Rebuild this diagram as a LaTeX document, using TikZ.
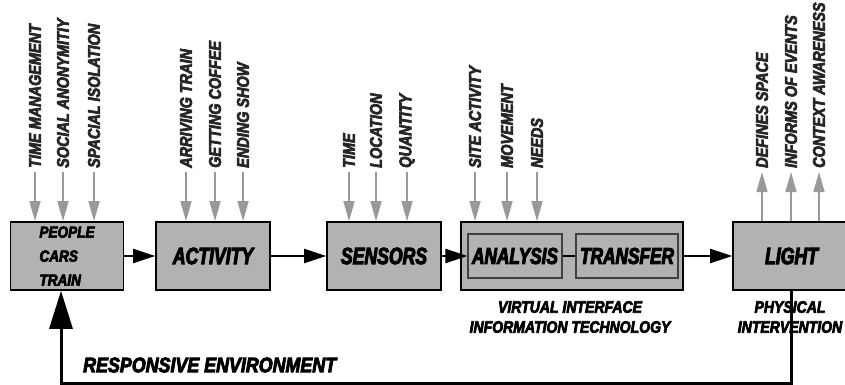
\documentclass[tikz,border=0pt]{standalone}
\usepackage{fontspec}
\newfontfamily\diagfont{Liberation Sans Bold Italic}[FakeStretch=0.85,FakeBold=4]
\newfontfamily\boxfont{Liberation Sans Bold Italic}[FakeStretch=0.75,FakeBold=4]
\usetikzlibrary{arrows.meta}
\begin{document}
\begin{tikzpicture}[x=1pt,y=-1pt]
\tikzset{box/.style      = {draw,
                            line width     = 1.6pt,
                            fill           = boxgray,
                            inner sep      = 0pt,
                            minimum height = 68pt,
                            font           = \boxfont\fontsize{23.5}{27}\selectfont},
         subbox/.style   = {box,
                            draw           = black!75,
                            line width     = 1.2pt,
                            minimum height = 44pt,
                            font           = \boxfont\fontsize{23}{27}\selectfont},
         toplabel/.style = {rotate=90, anchor=west, inner sep=0pt,
                            text           = black!85,
                            font           = \diagfont\fontsize{17}{20}\selectfont},
         note/.style     = {inner sep=0pt, align=center,
                            font           = \diagfont\fontsize{16.5}{20}\selectfont},
         inarrow/.style  = {draw=arrowgray, line width=1.4pt,
                            -{Triangle[length=20pt,width=11pt]}},
         flow/.style     = {line width=2.4pt, -{Triangle[length=22pt,width=14pt]}},
         feedback/.style = {line width=3pt, -{Triangle[length=38pt,width=23pt]}}}
\definecolor{boxgray}{rgb}{0.70,0.70,0.70}
\definecolor{arrowgray}{rgb}{0.60,0.60,0.60}
\useasboundingbox (0,0) rectangle (845,385);
% main chain
\node[box, minimum width=113pt, align=left,
      font=\diagfont\fontsize{16}{24}\selectfont] (people) at (67,256) {PEOPLE\\CARS\\TRAIN};
\node[box, minimum width=114pt] (activity) at (213,256) {ACTIVITY};
\node[box, minimum width=114pt] (sensors)  at (384,256) {SENSORS};
\node[box, minimum width=222pt] (virtual)  at (572,256) {};
\node[subbox, minimum width=94pt]  (analysis) at (515,256) {ANALYSIS};
\node[subbox, minimum width=102pt] (transfer) at (627,256) {TRANSFER};
\node[box, minimum width=117pt] (light)    at (791.5,256) {LIGHT};
\draw[flow] (people) -- (activity);
\draw[flow] (activity) -- (sensors);
\draw[flow] (sensors) -- (analysis);
\draw[line width=2.4pt] (analysis) -- (transfer);
\draw[flow] (virtual) -- (light);
% inputs
\foreach \x/\t [count=\i] in {35/TIME MANAGEMENT, 63/SOCIAL ANONYMITIY, 94/SPACIAL ISOLATION}
  {\node[toplabel] (p\i) at (\x,168) {\t};
   \draw[inarrow] ([yshift=-4pt]p\i.west) -- (p\i.west |- people.north);}
\foreach \x/\t [count=\i] in {186/ARRIVING TRAIN, 215/GETTING COFFEE, 243/ENDING SHOW}
  {\node[toplabel] (a\i) at (\x,168) {\t};
   \draw[inarrow] ([yshift=-4pt]a\i.west) -- (a\i.west |- activity.north);}
\foreach \x/\t [count=\i] in {349/TIME, 376/LOCATION, 407/QUANTITY}
  {\node[toplabel] (s\i) at (\x,168) {\t};
   \draw[inarrow] ([yshift=-4pt]s\i.west) -- (s\i.west |- sensors.north);}
\foreach \x/\t [count=\i] in {475/SITE ACTIVITY, 507/MOVEMENT, 537/NEEDS}
  {\node[toplabel] (v\i) at (\x,168) {\t};
   \draw[inarrow] ([yshift=-4pt]v\i.west) -- (v\i.west |- virtual.north);}
% outputs
\foreach \x/\t [count=\i] in {762/DEFINES SPACE, 791/INFORMS OF EVENTS, 819/CONTEXT AWARENESS}
  {\node[toplabel] (l\i) at (\x,168) {\t};
   \draw[inarrow] (l\i.west |- light.north) -- ([yshift=-4pt]l\i.west);}
% captions
\node[note] (vnote) at (570,317) {VIRTUAL INTERFACE\\INFORMATION TECHNOLOGY};
\node[note] (lnote) at (790,317) {PHYSICAL\\INTERVENTION};
\node[note, anchor=west, font=\diagfont\fontsize{21}{25}\selectfont] (resp) at (83,365) {RESPONSIVE ENVIRONMENT};
% loop back
\coordinate (fbl) at (61,383);
\draw[feedback] (light.south) |- (fbl) -- (people.south -| fbl);
\end{tikzpicture}
\end{document}
